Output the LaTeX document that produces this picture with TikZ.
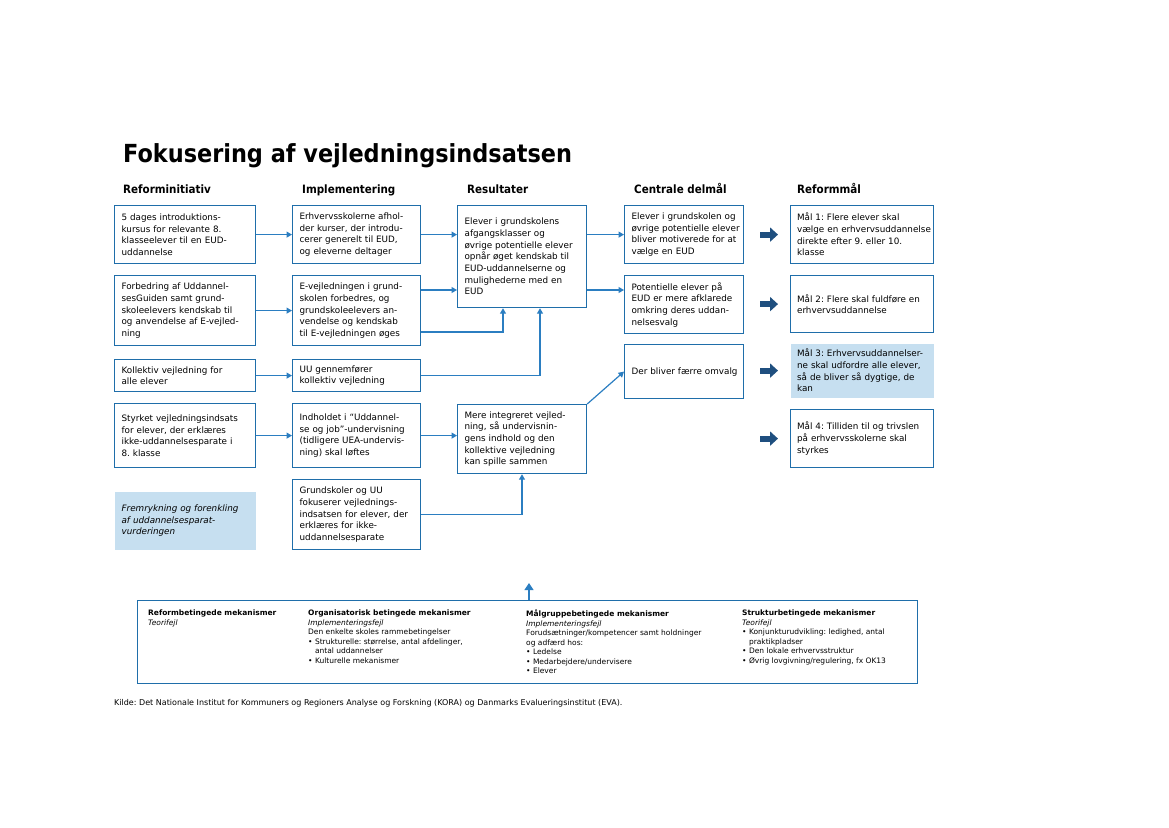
\documentclass[tikz,border=0pt]{standalone}
\usepackage{fontspec}
\setmainfont{DejaVu Sans}[ItalicFont={DejaVu Sans Oblique},BoldItalicFont={DejaVu Sans Bold Oblique}]
\newfontfamily\condfont{DejaVu Sans Condensed}
\usetikzlibrary{arrows.meta}
\frenchspacing

\definecolor{boxblue}{RGB}{31,110,170}
\definecolor{lineblue}{RGB}{43,126,193}
\definecolor{arrowdark}{RGB}{31,79,127}
\definecolor{lightfill}{RGB}{198,223,240}

\tikzset{
  box/.style={draw=boxblue, line width=1.2pt, anchor=north west, align=left,
    inner xsep=1.5pt, inner ysep=1pt, font=\fontsize{8.8}{11.7}\selectfont,
    execute at begin node={\leftskip=5.5pt}},
  col1/.style={box, text width=138pt},
  col2/.style={box, text width=125pt},
  col3/.style={box, text width=126pt},
  col4/.style={box, text width=116pt},
  col5/.style={box, text width=140pt, execute at begin node={\leftskip=5pt}},
  head/.style={anchor=base west, inner sep=0pt, font=\condfont\bfseries\fontsize{11.5}{13}\selectfont},
  mech/.style={anchor=north west, inner sep=0pt, align=left, font=\fontsize{7.5}{9.5}\selectfont},
  conn/.style={draw=lineblue, line width=1.2pt, -{Triangle[length=5.5pt,width=6pt]}},
  bigarrow/.style={draw=arrowdark, line width=6pt, -{Triangle[length=8pt,width=14pt]}}
}

\begin{document}
\begin{tikzpicture}[x=1pt, y=-1pt]
\useasboundingbox (0,0) rectangle (1169,827);

% title and column heads
\node[anchor=base west, inner sep=0pt, font=\condfont\bfseries\fontsize{24.9}{28}\selectfont] (title) at (123,162) {Fokusering af vejledningsindsatsen};
\node[head] (h1) at (123,193) {Reforminitiativ};
\node[head] (h2) at (302,193) {Implementering};
\node[head] (h3) at (467,193) {Resultater};
\node[head] (h4) at (634,193) {Centrale delmål};
\node[head] (h5) at (797,193) {Reformmål};

% reforminitiativ
\node[col1, minimum height=58pt] (b1) at (114,205) {5 dages introduktions-\\kursus for relevante 8.\\klasseelever til en EUD-\\uddannelse};
\node[col1, minimum height=70pt] (b2) at (114,275) {Forbedring af Uddannel-\\sesGuiden samt grund-\\skoleelevers kendskab til\\og anvendelse af E-vejled-\\ning};
\node[col1, minimum height=32pt] (b3) at (114,359) {Kollektiv vejledning for\\alle elever};
\node[col1, minimum height=64pt] (b4) at (114,403) {Styrket vejledningsindsats\\for elever, der erklæres\\ikke-uddannelsesparate i\\8. klasse};
\node[col1, draw=none, fill=lightfill, minimum height=58pt, font=\itshape\fontsize{8.8}{11.7}\selectfont] (fr) at (114,491) {Fremrykning og forenkling\\af uddannelsesparat-\\vurderingen};

% implementering
\node[col2, minimum height=58pt] (c1) at (292,205) {Erhvervsskolerne afhol-\\der kurser, der introdu-\\cerer generelt til EUD,\\og eleverne deltager};
\node[col2, minimum height=70pt] (c2) at (292,275) {E-vejledningen i grund-\\skolen forbedres, og\\grundskoleelevers an-\\vendelse og kendskab\\til E-vejledningen øges};
\node[col2, minimum height=32pt] (c3) at (292,359) {UU gennemfører\\kollektiv vejledning};
\node[col2, minimum height=64pt] (c4) at (292,403) {Indholdet i “Uddannel-\\se og job”-undervisning\\(tidligere UEA-undervis-\\ning) skal løftes};
\node[col2, minimum height=70pt] (c5) at (292,479) {Grundskoler og UU\\fokuserer vejlednings-\\indsatsen for elever, der\\erklæres for ikke-\\uddannelsesparate};

% resultater
\node[col3, minimum height=102pt] (r1) at (457,205) {Elever i grundskolens\\afgangsklasser og\\øvrige potentielle elever\\opnår øget kendskab til\\EUD-uddannelserne og\\mulighederne med en\\EUD};
\node[col3, minimum height=69pt] (r2) at (457,404) {Mere integreret vejled-\\ning, så undervisnin-\\gens indhold og den\\kollektive vejledning\\kan spille sammen};

% centrale delmaal
\node[col4, minimum height=58pt] (d1) at (624,205) {Elever i grundskolen og\\øvrige potentielle elever\\bliver motiverede for at\\vælge en EUD};
\node[col4, minimum height=58pt] (d2) at (624,275) {Potentielle elever på\\EUD er mere afklarede\\omkring deres uddan-\\nelsesvalg};
\node[col4, minimum height=54pt] (d3) at (624,344) {Der bliver færre omvalg};

% reformmaal
\node[col5, minimum height=58pt] (m1) at (790,205) {Mål 1: Flere elever skal\\vælge en erhvervsuddannelse\\direkte efter 9. eller 10.\\klasse};
\node[col5, minimum height=57pt] (m2) at (790,275) {Mål 2: Flere skal fuldføre en\\erhvervsuddannelse};
\node[col5, draw=none, fill=lightfill, minimum height=54pt] (m3) at (790,343) {Mål 3: Erhvervsuddannelser-\\ne skal udfordre alle elever,\\så de bliver så dygtige, de\\kan};
\node[col5, minimum height=58pt] (m4) at (790,409) {Mål 4: Tilliden til og trivslen\\på erhvervsskolerne skal\\styrkes};

% elbows and free ends
\coordinate (row2) at (0,290);
\coordinate (low2) at (503,332);
\coordinate (up3) at (540,0);
\coordinate (up5) at (522,0);
\coordinate (tip) at (529,583);

% connectors
\draw[conn] (b1.east) -- (c1.west);
\draw[conn] (b2.east) -- (c2.west);
\draw[conn] (b3.east) -- (c3.west);
\draw[conn] (b4.east) -- (c4.west);
\draw[conn] (c1.east) -- (c1.east -| r1.west);
\draw[conn] (c2.east |- row2) -- (r1.west |- row2);
\draw[conn] (c2.east |- low2) -| (r1.south -| low2);
\draw[conn] (c3.east) -| (r1.south -| up3);
\draw[conn] (c4.east) -- (c4.east -| r2.west);
\draw[conn] (c5.east) -| (r2.south -| up5);
\draw[conn] (r1.east |- d1.west) -- (d1.west);
\draw[conn] (r1.east |- row2) -- (d2.west |- row2);
\draw[conn] (r2.north east) -- (d3.west);
\foreach \m in {m1,m2,m3,m4}
  \draw[bigarrow] ([xshift=-30pt]\m.west) -- ([xshift=-12pt]\m.west);

% mekanismer
\node[draw=boxblue, line width=1.2pt, anchor=north west, inner sep=0pt,
  minimum width=780pt, minimum height=83pt] (bot) at (137,600) {};
\draw[conn, -{Triangle[length=7pt,width=9pt]}] (tip |- bot.north) -- (tip);
\node[mech] (bm1) at (148,610) {\textbf{Reformbetingede mekanismer}\\\textit{Teorifejl}};
\node[mech] (bm2) at (308,610) {\textbf{Organisatorisk betingede mekanismer}\\\textit{Implementeringsfejl}\\Den enkelte skoles rammebetingelser\\• Strukturelle: størrelse, antal afdelinger,\\\phantom{• }antal uddannelser\\• Kulturelle mekanismer};
\node[mech] (bm3) at (526,610) {\textbf{Målgruppebetingede mekanismer}\\\textit{Implementeringsfejl}\\Forudsætninger/kompetencer samt holdninger\\og adfærd hos:\\• Ledelse\\• Medarbejdere/undervisere\\• Elever};
\node[mech] (bm4) at (742,610) {\textbf{Strukturbetingede mekanismer}\\\textit{Teorifejl}\\• Konjunkturudvikling: ledighed, antal\\\phantom{• }praktikpladser\\• Den lokale erhvervsstruktur\\• Øvrig lovgivning/regulering, fx OK13};

\node[anchor=west, inner sep=0pt, font=\fontsize{8}{9}\selectfont] (src) at (114,703) {Kilde: Det Nationale Institut for Kommuners og Regioners Analyse og Forskning (KORA) og Danmarks Evalueringsinstitut (EVA).};
\end{tikzpicture}
\end{document}
